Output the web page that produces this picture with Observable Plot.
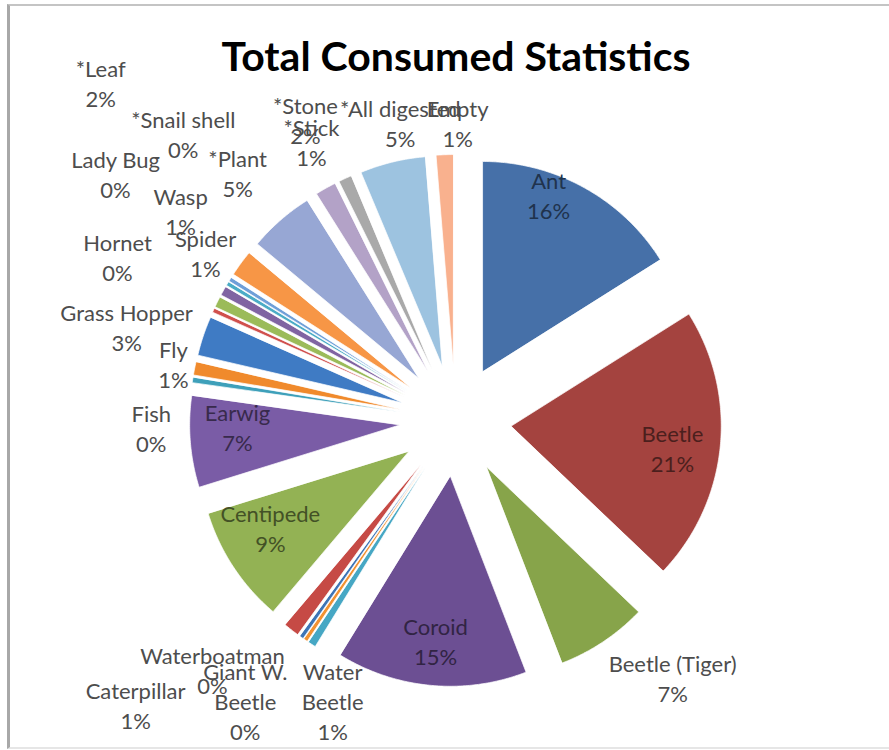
<!DOCTYPE html>
<html>
<head>
<meta charset="utf-8">
<script src="https://cdn.jsdelivr.net/npm/d3@7"></script>
<script src="https://cdn.jsdelivr.net/npm/@observablehq/plot@0.6"></script>
<style>
  html, body { margin: 0; padding: 0; background: #fff; overflow: hidden; }
  #wrap { position: relative; width: 889px; height: 750px; overflow: hidden; font-family: Lato, "Open Sans", sans-serif; }
  #frame { position: absolute; left: 7px; top: 4px; width: 879px; height: 741px; border-left: 3px solid #a8a8a8; border-top: 2px solid #c4c4c4; border-bottom: 2px solid #e6e6e6; border-right: none; }
  #title { position: absolute; left: 0; top: 31px; width: 889px; padding-left: 23px; box-sizing: border-box; text-align: center; font: bold 41px/49px Lato, "Open Sans", sans-serif; color: #000; z-index: 2; }
  #chart { position: absolute; left: 0; top: 0; width: 889px; height: 750px; z-index: 1; }
  #chart svg { display: block; }
</style>
</head>
<body>
<div id="wrap">
  <div id="frame"></div>
  <div id="chart"></div>
  <div id="title">Total Consumed Statistics</div>
</div>
<script>
// ---- data (clockwise from 12 o'clock) ----
const categories = ["Ant", "Beetle", "Beetle (Tiger)", "Coroid", "Water Beetle", "Giant W. Beetle",
  "Waterboatman", "Caterpillar", "Centipede", "Earwig", "Fish", "Fly", "Grass Hopper", "Hornet",
  "Spider", "Wasp", "Lady Bug", "*Snail shell", "*Leaf", "*Plant", "*Stone", "*Stick",
  "*All digested", "Empty"];
const shares = [16, 21, 7, 14.6, 0.6, 0.3, 0.3, 1.2, 9, 7, 0.4, 1, 3, 0.3, 0.8, 0.7, 0.3, 0.3,
  2, 5, 1.6, 1, 5, 1.3];
const sliceColors = ["#4670a8", "#a4433f", "#87a44a", "#6c4f93", "#46a7c4", "#f29232",
  "#3d74b6", "#c64a45", "#93b254", "#7a5ca6", "#3ea0ba", "#f08a2c", "#3f7bc4", "#d0504d",
  "#9bbb59", "#8064a2", "#4bacc6", "#6f9fd8", "#f79646", "#97a7d4", "#b3a2c7", "#a9a9a9",
  "#9dc3e0", "#f9b18e"];

// ---- layout (label anchors as [angle° clockwise from north, distance in pie radii]) ----
const insideLabels = ["Ant", "Beetle", "Coroid", "Centipede", "Earwig"];
const wrapLabels = ["Giant W. Beetle", "Water Beetle"];
const labelPlacement = [[22.4, 1.164], [97.1, 1.041], [139.8, 1.602], [185.2, 1.052],
  [203.7, 1.456], [216.9, 1.667], [224.3, 1.657], [228.4, 2.037], [240.0, 1.018],
  [268.4, 1.039], [268.7, 1.449], [281.4, 1.370], [285.95, 1.629], [295.9, 1.789],
  [303.9, 1.434], [307.4, 1.648], [306.0, 2.001], [316.5, 1.883], [313.6, 2.333],
  [318.7, 1.572], [333.5, 1.601], [332.7, 1.495], [349.5, 1.443], [0.4, 1.419]];

const W = 889, H = 750;
const RPX = 210;               // pie radius in px
const CX = 455, CY = 420;      // pie centre in px
const EXPLODE = 56 / RPX;      // explosion distance in radii

const rows = categories.map((name, i) => ({name, share: shares[i], color: sliceColors[i]}));
const total = d3.sum(shares);
const arcs = d3.pie().sort(null).value(d => d.share)(rows);

const slicePts = [];
arcs.forEach(a => {
  const mid = (a.startAngle + a.endAngle) / 2;
  const ox = EXPLODE * Math.sin(mid), oy = EXPLODE * Math.cos(mid);
  slicePts.push({name: a.data.name, x: ox, y: oy});
  const n = Math.max(2, Math.ceil((a.endAngle - a.startAngle) / (Math.PI / 360)));
  for (let k = 0; k <= n; k++) {
    const t = a.startAngle + (a.endAngle - a.startAngle) * k / n;
    slicePts.push({name: a.data.name, x: ox + Math.sin(t), y: oy + Math.cos(t)});
  }
});

const labels = rows.map((d, i) => {
  const [ang, r] = labelPlacement[i];
  const rad = ang * Math.PI / 180;
  const pct = Math.round(d.share / total * 100) + "%";
  const nm = wrapLabels.includes(d.name) ? d.name.replace(/ (\S+)$/, "\n$1") : d.name;
  const inside = insideLabels.includes(d.name);
  return {
    x: r * Math.sin(rad), y: r * Math.cos(rad),
    text: nm + "\n" + pct,
    color: inside ? d3.color(d.color).darker(2.2).formatHex() : "#4d4d4d"
  };
});

const chart = Plot.plot({
  width: W, height: H, margin: 0,
  style: {background: "transparent"},
  x: {domain: [-CX / RPX, (W - CX) / RPX], axis: null},
  y: {domain: [-(H - CY) / RPX, CY / RPX], axis: null},
  color: {domain: categories, range: sliceColors},
  marks: [
    Plot.line(slicePts, {x: "x", y: "y", z: "name", fill: "name", stroke: "white",
      strokeWidth: 0.7, curve: "linear-closed"}),
    Plot.text(labels, {x: "x", y: "y", text: "text", fill: d => d.color,
      fontSize: 22, lineHeight: 1.36, fontFamily: "Lato, 'Open Sans', sans-serif"})
  ]
});
document.getElementById("chart").appendChild(chart);
</script>
</body>
</html>
